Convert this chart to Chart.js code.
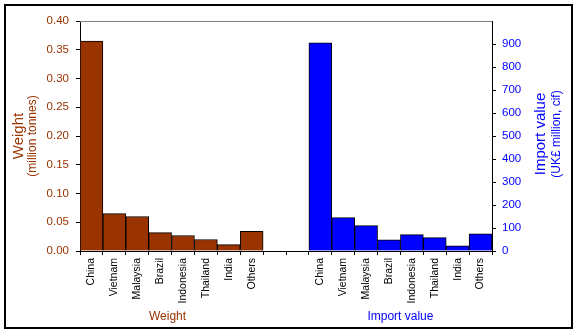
<!DOCTYPE html>
<html>
<head>
<meta charset="utf-8">
<script src="https://cdn.jsdelivr.net/npm/chart.js@4/dist/chart.umd.min.js"></script>
<style>
  body { margin: 0; background: #fff; }
</style>
</head>
<body>
<canvas id="myChart" width="577" height="332"></canvas>
<script>
const countries = ["China", "Vietnam", "Malaysia", "Brazil", "Indonesia", "Thailand", "India", "Others"];
// million tonnes
const weight = [0.365, 0.065, 0.060, 0.032, 0.027, 0.020, 0.011, 0.034];
// UK£ million, cif
const importValue = [905, 145, 110, 49, 71, 58, 23, 75];

const gap = ["", ""];
const labels = [...countries, ...gap, ...countries];
const blanks = n => new Array(n).fill(null);

const brown = "#993300";
const blue = "#0000ff";

Chart.defaults.font.family = "'Liberation Sans', Arial, sans-serif";

// frame, top line and the axis titles
const extras = {
  id: "extras",
  afterDraw(chart) {
    const c = chart.ctx;
    const a = chart.chartArea;
    const x = chart.scales.x;
    c.save();
    c.strokeStyle = "#000";
    c.lineWidth = 2;
    c.strokeRect(5, 5, 567, 323);

    c.strokeStyle = "#808080";
    c.lineWidth = 1;
    c.beginPath();
    c.moveTo(a.left, a.top + 0.5);
    c.lineTo(a.right, a.top + 0.5);
    c.stroke();

    const midY = (a.top + a.bottom) / 2;
    c.textAlign = "center";
    c.textBaseline = "middle";

    c.fillStyle = brown;
    c.save();
    c.translate(19, midY);
    c.rotate(-Math.PI / 2);
    c.font = "15px 'Liberation Sans', Arial";
    c.fillText("Weight", 0, 0);
    c.restore();
    c.save();
    c.translate(33, midY);
    c.rotate(-Math.PI / 2);
    c.font = "12px 'Liberation Sans', Arial";
    c.fillText("(million tonnes)", 0, 0);
    c.restore();

    c.fillStyle = blue;
    c.save();
    c.translate(541, midY - 2);
    c.rotate(-Math.PI / 2);
    c.font = "15px 'Liberation Sans', Arial";
    c.fillText("Import value", 0, 0);
    c.restore();
    c.save();
    c.translate(557, midY - 2);
    c.rotate(-Math.PI / 2);
    c.font = "12px 'Liberation Sans', Arial";
    c.fillText("(UK£ million, cif)", 0, 0);
    c.restore();

    c.font = "12px 'Liberation Sans', Arial";
    c.fillStyle = brown;
    c.fillText("Weight", x.getPixelForValue(3.5) - 4, 317);
    c.fillStyle = blue;
    c.fillText("Import value", x.getPixelForValue(13.5), 317);
    c.restore();
  }
};

const ctx = document.getElementById("myChart").getContext("2d");

const myChart = new Chart(ctx, {
  type: "bar",
  data: {
    labels,
    datasets: [
      {
        label: "Weight",
        data: [...weight, ...blanks(10)],
        yAxisID: "y",
        backgroundColor: brown,
        borderColor: "#000",
        borderWidth: 1,
        grouped: false,
        categoryPercentage: 1,
        barPercentage: 1
      },
      {
        label: "Import value",
        data: [...blanks(10), ...importValue],
        yAxisID: "y2",
        backgroundColor: blue,
        borderColor: "#000",
        borderWidth: 1,
        grouped: false,
        categoryPercentage: 1,
        barPercentage: 1
      }
    ]
  },
  options: {
    responsive: false,
    animation: false,
    layout: { padding: { top: 21, left: 0, right: 0, bottom: 0 } },
    plugins: {
      legend: { display: false },
      tooltip: { enabled: false }
    },
    scales: {
      x: {
        afterFit: s => { s.height = 81; },
        border: { color: "#000" },
        grid: { drawOnChartArea: false, color: "#000", tickLength: 4, offset: true },
        ticks: {
          color: "#000",
          font: { size: 10.5 },
          minRotation: 90,
          maxRotation: 90,
          autoSkip: false,
          padding: 3
        }
      },
      y: {
        position: "left",
        min: 0,
        max: 0.4,
        afterFit: s => { s.width = 80; },
        border: { color: "#000" },
        grid: { drawOnChartArea: false, color: "#000", tickLength: 4 },
        ticks: {
          stepSize: 0.05,
          color: brown,
          font: { size: 11.5 },
          padding: 7,
          callback: v => v.toFixed(2)
        }
      },
      y2: {
        position: "right",
        min: 0,
        max: 1000,
        afterFit: s => { s.width = 85; },
        border: { color: "#000" },
        grid: { drawOnChartArea: false, color: "#000", tickLength: 4 },
        ticks: {
          stepSize: 100,
          color: blue,
          font: { size: 11.5 },
          padding: 6,
          callback: v => (v >= 1000 ? null : String(v))
        }
      }
    }
  },
  plugins: [extras]
});
</script>
</body>
</html>
